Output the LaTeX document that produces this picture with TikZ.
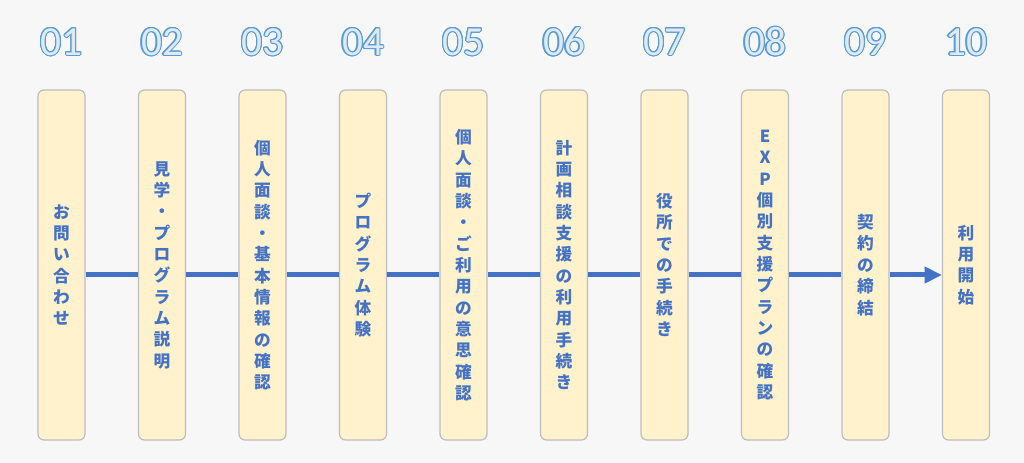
\documentclass[tikz,border=0pt]{standalone}
\usepackage{fontspec}
\usepackage[copies]{contour}
\usetikzlibrary{arrows.meta}
\newfontfamily\jpfont{Noto Sans CJK JP}
\newfontfamily\numfont{Carlito}
\definecolor{bgcol}{HTML}{F7F7F7}
\definecolor{boxfill}{HTML}{FFF2CC}
\definecolor{boxline}{HTML}{BDBDBD}
\definecolor{txtblue}{HTML}{4472C4}
\definecolor{numfill}{HTML}{DDEBF7}
\definecolor{numline}{HTML}{5B9BD5}
\contourlength{0.8pt}
\tikzset{
  stepbox/.style={draw=boxline, line width=0.9pt, fill=boxfill,
    rounded corners=4.5pt, minimum width=35.25pt, minimum height=262.5pt,
    inner sep=0pt, align=center, text=txtblue,
    font=\jpfont\bfseries\fontsize{12.5}{16}\selectfont},
  numtext/.style={inner sep=0pt, font=\numfont\fontsize{31}{31}\selectfont},
  flow/.style={draw=txtblue, line width=3.75pt}
}
\begin{document}
\begin{tikzpicture}[x=0.75pt, y=-0.75pt]
  \fill[bgcol] (0,0) rectangle (1024,463);
  \useasboundingbox (0,0) rectangle (1024,463);
  % steps
  \node[stepbox] (s1) at (61.5,265) {お\\問\\い\\合\\わ\\せ};
  \node[stepbox] (s2) at (162,265) {見\\学\\・\\プ\\ロ\\グ\\ラ\\ム\\説\\明};
  \node[stepbox] (s3) at (262.5,265) {個\\人\\面\\談\\・\\基\\本\\情\\報\\の\\確\\認};
  \node[stepbox] (s4) at (363,265) {プ\\ロ\\グ\\ラ\\ム\\体\\験};
  \node[stepbox] (s5) at (463.5,265) {個\\人\\面\\談\\・\\ご\\利\\用\\の\\意\\思\\確\\認};
  \node[stepbox] (s6) at (564,265) {計\\画\\相\\談\\支\\援\\の\\利\\用\\手\\続\\き};
  \node[stepbox] (s7) at (664.5,265) {役\\所\\で\\の\\手\\続\\き};
  \node[stepbox] (s8) at (765,265) {E\\X\\P\\個\\別\\支\\援\\プ\\ラ\\ン\\の\\確\\認};
  \node[stepbox] (s9) at (865.5,265) {契\\約\\の\\締\\結};
  \node[stepbox] (s10) at (966,265) {利\\用\\開\\始};
  % numbers
  \foreach \i/\lab in {1/01,2/02,3/03,4/04,5/05,6/06,7/07,8/08,9/09,10/10}
    \node[numtext] (n\i) at ([yshift=35.25pt]s\i.north) {\contour{numline}{\textcolor{numfill}{\lab}}};
  % flow line
  \foreach \i [evaluate=\i as \j using int(\i+1)] in {1,...,8}
    \draw[flow] ([yshift=-7.5pt]s\i.east) -- ([yshift=-7.5pt]s\j.west);
  \draw[flow, -{Triangle[length=13pt, width=12pt]}] ([yshift=-7.5pt]s9.east) -- ([yshift=-7.5pt]s10.west);
\end{tikzpicture}
\end{document}
